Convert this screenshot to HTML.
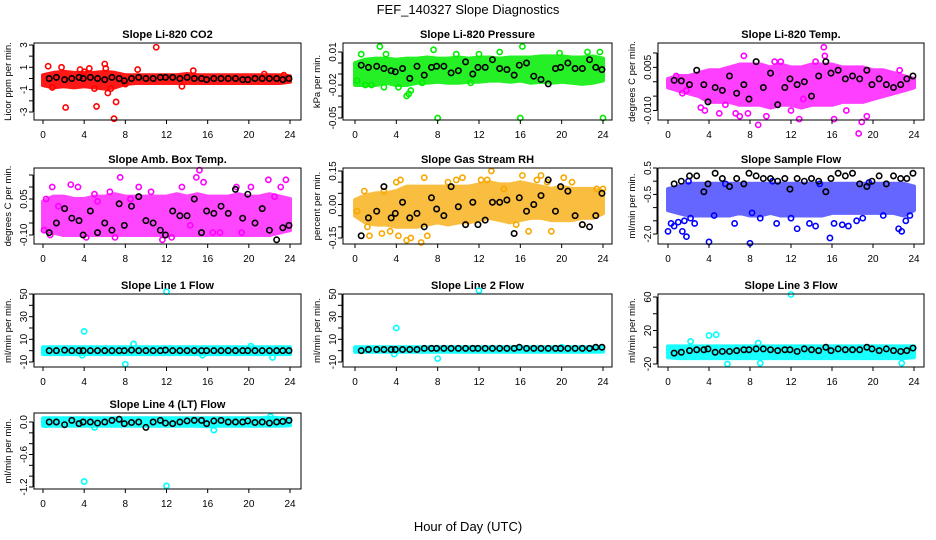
<!DOCTYPE html>
<html><head><meta charset="utf-8"><style>
html,body{margin:0;padding:0;background:#fff;}
svg{display:block;font-family:"Liberation Sans",Arial,sans-serif;}
</style></head><body>
<svg id="chart" width="936" height="540" viewBox="0 0 936 540">
<rect x="0" y="0" width="936" height="540" fill="#fff"/>
<text x="468" y="14" text-anchor="middle" font-size="13">FEF_140327  Slope Diagnostics</text>
<text x="468" y="531" text-anchor="middle" font-size="13">Hour of Day (UTC)</text>
</svg>
<script>
const NS="http://www.w3.org/2000/svg";
const svg=document.getElementById('chart');
const xTicks=[0,4,8,12,16,20,24];
const bandHours=[0,1,2,3,4,5,6,7,8,9,10,11,12,13,14,15,16,17,18,19,20,21,22,23,24];
const blackHours=[0.6,1.3,2.1,2.8,3.5,3.9,4.6,5.3,6.0,6.7,7.4,7.9,8.6,9.3,10.0,10.7,11.4,11.9,12.6,13.3,14.0,14.7,15.4,15.9,16.6,17.3,18.0,18.7,19.4,19.9,20.6,21.3,22.0,22.7,23.3,23.9];

const titles=["Slope Li-820 CO2","Slope Li-820 Pressure","Slope Li-820 Temp.","Slope Amb. Box Temp.","Slope Gas Stream RH","Slope Sample Flow","Slope Line 1 Flow","Slope Line 2 Flow","Slope Line 3 Flow","Slope Line 4 (LT) Flow"];
const yTitles=["Licor ppm per min.","kPa per min.","degrees C per min.","degrees C per min.","percent per min.","ml/min per min.","ml/min per min.","ml/min per min.","ml/min per min.","ml/min per min."];
const yTickVals=[[3,2,1,0,-1,-2,-3],[0.01,0,-0.01,-0.02,-0.03,-0.04,-0.05],[0.01,0.005,0,-0.005,-0.01],[0.15,0.1,0.05,0,-0.05,-0.1],[0.15,0.1,0.05,0,-0.05,-0.1,-0.15],[0.5,0,-0.5,-1,-1.5,-2],[50,40,30,20,10,0,-10],[50,40,30,20,10,0,-10],[60,40,20,0,-20],[0,-0.2,-0.4,-0.6,-0.8,-1,-1.2]];
const yTickLabels=[["3","1","-1","-3"],["0.01","-0.02","-0.05"],["0.005","-0.010"],["0.05","-0.10"],["0.15","0.00","-0.15"],["0.5","-0.5","-2.0"],["50","30","10","-10"],["50","30","10","-10"],["60","20","-20"],["0.0","-0.6","-1.2"]];
const yLabelVals=[[3,1,-1,-3],[0.01,-0.02,-0.05],[0.005,-0.01],[0.05,-0.1],[0.15,0,-0.15],[0.5,-0.5,-2],[50,30,10,-10],[50,30,10,-10],[60,20,-20],[0,-0.6,-1.2]];
const yDomTop=[3,0.01,0.01,0.15,0.15,0.5,50,50,60,0];
const yDomBot=[-3,-0.05,-0.01,-0.1,-0.15,-2,-10,-10,-20,-1.2];

const bandLo=[
[-0.6,-0.8,-0.7,-0.8,-0.7,-0.8,-0.9,-0.8,-0.5,-0.4,-0.4,-0.4,-0.4,-0.4,-0.4,-0.4,-0.4,-0.4,-0.4,-0.4,-0.4,-0.4,-0.4,-0.4,-0.3],
[-0.02,-0.02,-0.02,-0.018,-0.02,-0.02,-0.018,-0.018,-0.017,-0.018,-0.018,-0.017,-0.017,-0.016,-0.016,-0.017,-0.016,-0.018,-0.017,-0.018,-0.017,-0.018,-0.019,-0.018,-0.016],
[-0.002,-0.003,-0.004,-0.005,-0.007,-0.007,-0.007,-0.008,-0.008,-0.008,-0.009,-0.008,-0.008,-0.009,-0.008,-0.008,-0.008,-0.007,-0.007,-0.007,-0.006,-0.005,-0.004,-0.003,-0.002],
[-0.08,-0.09,-0.1,-0.1,-0.1,-0.1,-0.1,-0.1,-0.1,-0.1,-0.1,-0.1,-0.1,-0.1,-0.1,-0.1,-0.1,-0.1,-0.1,-0.1,-0.1,-0.1,-0.1,-0.09,-0.08],
[-0.05,-0.08,-0.09,-0.09,-0.1,-0.1,-0.1,-0.09,-0.08,-0.09,-0.08,-0.08,-0.07,-0.06,-0.07,-0.08,-0.07,-0.06,-0.06,-0.07,-0.07,-0.07,-0.06,-0.06,-0.04],
[-1.1,-1.2,-1.3,-1.3,-1.3,-1.3,-1.3,-1.2,-1.3,-1.3,-1.2,-1.3,-1.3,-1.3,-1.3,-1.3,-1.2,-1.2,-1.2,-1.2,-1.2,-1.2,-1.2,-1.3,-1.1],
[-3,-3,-3,-3,-3,-3,-3,-3,-3,-3,-3,-3,-3,-3,-3,-3,-3,-3,-3,-3,-3,-3,-3,-3,-3],
[-1,-1,-1,-1,-1,-1,-1,-1,-1,-1,-1,-1,-1,-1,-1,-1,-1,-1,-1,-1,-1,-1,-1,-1,-1],
[-12,-13,-13,-13,-13,-13,-13,-13,-13,-13,-13,-13,-13,-13,-13,-13,-13,-13,-13,-13,-13,-13,-13,-13,-12],
[-0.07,-0.07,-0.07,-0.07,-0.07,-0.07,-0.07,-0.07,-0.07,-0.07,-0.07,-0.07,-0.07,-0.07,-0.07,-0.07,-0.08,-0.07,-0.07,-0.07,-0.07,-0.07,-0.07,-0.07,-0.06]];
const bandHi=[
[0.3,0.5,0.6,0.5,0.5,0.5,0.6,0.5,0.3,0.3,0.3,0.3,0.3,0.3,0.4,0.3,0.3,0.3,0.3,0.3,0.3,0.3,0.3,0.3,0.2],
[0.0,0.003,0.004,0.004,0.003,0.004,0.004,0.005,0.004,0.004,0.005,0.004,0.005,0.005,0.004,0.005,0.005,0.005,0.006,0.006,0.006,0.005,0.005,0.006,0.004],
[0.001,0.002,0.002,0.003,0.004,0.004,0.005,0.006,0.006,0.006,0.005,0.006,0.005,0.005,0.006,0.006,0.006,0.005,0.005,0.005,0.004,0.004,0.003,0.002,0.001],
[0.04,0.06,0.06,0.05,0.05,0.06,0.06,0.07,0.06,0.06,0.06,0.06,0.06,0.07,0.06,0.07,0.06,0.06,0.06,0.07,0.06,0.06,0.07,0.06,0.05],
[0.02,0.04,0.05,0.05,0.06,0.08,0.08,0.08,0.08,0.08,0.08,0.08,0.09,0.1,0.09,0.09,0.1,0.09,0.08,0.07,0.08,0.07,0.07,0.07,0.06],
[-0.3,-0.2,-0.1,-0.1,-0.1,-0.1,-0.1,-0.1,-0.1,-0.1,-0.1,-0.1,-0.1,-0.1,-0.1,-0.1,-0.1,-0.1,-0.1,-0.1,-0.1,-0.1,-0.1,-0.1,-0.2],
[3,3,3,3,3,3,3,3,3,3,3,3,3,3,3,3,3,3,3,3,3,3,3,3,3],
[3,3,3,3,3,3,3,3,3,3,3,3,3,3,3,3,3,3,3,3,3,3,3,3,3],
[1,1,1,1,1,1,1,1,1,1,1,1,1,1,1,1,1,1,1,1,1,1,1,1,1],
[0.07,0.07,0.07,0.07,0.07,0.07,0.07,0.07,0.07,0.07,0.07,0.07,0.07,0.07,0.07,0.07,0.07,0.07,0.07,0.07,0.07,0.07,0.08,0.07,0.06]];

const scatX=[
[0.5,0.9,1.8,2.2,3.6,4.5,5.0,5.2,6.0,6.1,6.3,6.6,6.9,7.1,9.2,11.0,13.5,14.6,21.5,23.4,4.0,8.0],
[0.2,0.6,1.0,1.6,2.4,2.8,3.0,4.2,5.0,5.2,5.4,7.6,8.0,9.8,11.2,12.0,16.0,16.2,19.8,22.5,23.7,24.0,6.5,14.0],
[0.8,1.4,1.8,3.2,3.6,5.0,5.6,6.6,7.0,7.4,7.8,8.8,9.6,10.4,11.0,12.0,12.8,13.2,14.4,15.2,15.3,16.2,17.4,18.6,18.9,19.4,22.6],
[0.1,0.3,0.7,0.9,1.5,2.7,3.4,4.2,5.0,6.5,7.0,7.5,8.5,9.3,11.6,12.5,13.5,14.3,14.9,15.6,16.5,17.2,18.8,19.3,20.2,21.9,22.5,23.1,23.6,5.3,10.5,15.2],
[0.2,0.9,1.2,1.4,2.6,2.8,3.4,4.0,4.2,4.4,5.0,5.4,6.4,6.7,7.0,9.0,9.8,10.4,12.2,12.8,13.2,14.4,15.6,16.2,16.8,17.6,18.0,18.6,19.0,20.2,21.0,22.0,23.4,24.0],
[0.0,0.3,0.6,1.0,1.4,1.6,1.8,2.2,2.6,4.0,4.5,6.5,8.0,8.2,9.0,10.6,12.0,12.6,13.8,14.4,15.8,16.2,17.0,17.6,18.4,19.0,21.0,22.5,22.8,23.2,23.6,2.0,5.6,10.2,14.8,19.6],
[4.0,12.0,8.0,8.8,15.5,22.3,3.8,20.2],
[4.0,12.0,8.0,3.8,20.0],
[4.0,4.7,12.0,5.8,2.2,8.8,9.0,22.8,1.0],
[4.0,12.0,16.6,22.1,0.3,5.0]];
const scatY=[
[1.1,-0.8,1.0,-2.6,0.8,0.9,-0.9,-2.5,1.3,0.9,-1.3,-0.9,-3.6,-2.1,0.8,2.8,-0.7,0.7,0.4,0.3,0.6,-0.5],
[-0.016,0.008,-0.02,-0.02,0.015,-0.022,0.008,-0.022,-0.03,-0.028,-0.025,0.012,-0.05,0.008,-0.018,0.008,-0.05,0.015,0.009,0.01,0.01,-0.05,-0.018,0.01],
[0.002,-0.004,-0.003,-0.009,-0.01,-0.011,-0.008,-0.011,-0.012,0.009,-0.011,-0.015,-0.012,0.007,0.007,-0.01,-0.013,-0.006,0.007,0.012,0.009,-0.013,-0.01,-0.018,-0.014,-0.012,0.004],
[-0.08,0.05,-0.10,0.10,0.02,0.11,0.10,-0.11,0.07,0.08,-0.11,0.14,0.05,0.10,-0.12,-0.11,0.10,-0.06,0.14,0.12,-0.09,-0.09,0.10,-0.09,0.10,0.13,0.06,0.10,0.13,0.04,0.08,0.17],
[-0.03,0.06,-0.10,-0.14,-0.13,0.06,-0.12,0.10,-0.14,0.11,-0.16,-0.15,-0.17,0.12,-0.14,0.10,0.11,0.12,0.11,0.11,0.15,0.07,-0.09,0.13,-0.12,0.11,0.13,0.10,-0.12,0.12,0.10,-0.09,0.07,0.07],
[-1.9,-1.6,-1.7,-1.55,-1.9,-1.5,-2.1,-1.4,-1.6,-2.3,-1.3,-1.6,-2.35,-1.2,-1.4,-1.6,-1.4,-1.8,-1.6,-1.7,-2.15,-1.6,-1.65,-1.7,-1.5,-1.4,-1.3,-1.8,-1.9,-1.5,-1.3,0.0,-0.1,0.0,-0.1,-0.05],
[17,52,-12,6,-4,-6,-4,4],
[20,53,-7,-3,3],
[14,15,63,-20,7,5,-19,-19,-7],
[-1.1,-1.18,-0.15,0.1,-0.05,-0.1]];

const blackY=[
[0,0.1,-0.1,0,0.1,0,0.1,0,-0.1,0.1,0,-0.2,0,0.1,0,0,0.1,0.1,0.1,0,0.1,0,0,-0.1,0,0,0,0,-0.1,-0.1,0,0,0,0,-0.1,0],
[-0.002,-0.004,-0.003,-0.005,-0.007,-0.008,-0.005,-0.014,-0.003,-0.011,-0.004,-0.003,-0.003,-0.009,-0.007,0.001,-0.01,-0.004,-0.004,0.003,-0.005,-0.006,-0.011,-0.002,0.0,-0.012,-0.015,-0.019,-0.005,-0.004,0.0,-0.005,-0.005,0.003,-0.004,-0.006],
[0.0005,0.0003,-0.001,0.004,-0.001,-0.007,-0.002,-0.003,0.002,-0.004,-0.001,-0.006,0.007,-0.002,0.003,-0.008,-0.002,0.001,-0.001,0.0,-0.005,0.002,0.007,0.003,0.004,0.001,0.002,0.001,0.004,-0.001,0.001,-0.001,-0.002,-0.001,0.001,0.002],
[-0.09,-0.05,0.01,-0.03,-0.04,-0.10,0.00,-0.09,-0.05,-0.08,0.03,-0.06,0.02,0.06,-0.04,-0.05,-0.08,-0.10,0.00,-0.02,-0.02,0.05,-0.09,0.00,-0.01,0.02,-0.01,0.09,-0.03,0.07,-0.05,0.01,-0.08,-0.12,-0.07,-0.06],
[-0.14,-0.06,-0.03,0.08,-0.06,-0.04,0.01,-0.06,-0.04,-0.1,0.03,-0.02,-0.05,0.08,-0.01,-0.09,0.01,-0.09,-0.07,0.01,0.01,0.02,-0.13,0.03,-0.03,0.0,0.04,0.11,-0.03,0.08,0.06,-0.05,-0.09,-0.1,-0.05,0.05],
[-0.1,0,0.2,0.2,-0.4,-0.1,0.3,0.1,-0.2,0.1,-0.1,0.3,0.2,0.1,0.1,0,0.1,-0.3,0.1,0,0.1,0,-0.4,0.1,0.3,0.2,0.3,-0.1,-0.2,0,0.2,-0.1,0.2,0.1,0.1,0.3],
[0,0,0.5,0,0,0,0,0,0,0,0,0,0.5,0,0,0,0,0.5,0,0,0,0,0,0,0,0,0,0,0,0,0,0,0,0,0,0],
[0,1,1,1,1,1,1,1,1,2,2,2,2,2,2,2,2,2,2,2,2,2,2,3,2,2,2,2,2,2,2,2,2,2,3,3],
[-7,-6,-4,-3,-3,-2,-6,-5,-5,-4,-3,-3,-2,-2,-3,-4,-3,-3,-5,-2,-3,-4,0,-4,-2,-3,-3,-3,0,-2,-4,-2,-4,-5,-4,-1],
[0,0,-0.05,0.03,-0.03,0.0,0.0,-0.02,0.0,0.03,0.05,-0.03,-0.01,0.0,-0.1,0.0,0.03,-0.02,-0.03,0.0,0.02,0.03,0.03,-0.03,0.02,0.03,0.0,0.0,0.0,0.02,-0.01,0.0,-0.02,0.0,0.01,0.03]];

const colors=["#ff0000","#00ee00","#ff00ff","#ff00ff","#f7a800","#0000ff","#00ffff","#00ffff","#00ffff","#00ffff"];
const bandOpacity=[0.9,0.85,0.75,0.72,0.75,0.6,0.9,0.9,0.9,0.9];

const cols=[{bx:34,bw:267,x0:43,x24:290},{bx:343,bw:269,x0:355,x24:603},{bx:658,bw:266,x0:668,x24:914}];
const rows=[{by:43,bh:77},{by:168,bh:76},{by:294,bh:73},{by:413,bh:76}];
const yPix=[[45,112],[52,118],[53,110.5],[175,235],[171,238],[168,234],[294,362],[294,362],[297,364],[422,487]];

function mk(tag,attrs,parent){const e=document.createElementNS(NS,tag);for(const k in attrs)e.setAttribute(k,attrs[k]);(parent||svg).appendChild(e);return e;}

for(let p=0;p<10;p++){
  const c=cols[p%3], r=rows[Math.floor(p/3)];
  const g=mk('g',{});
  
  
  const xs=h=>c.x0+(h/24)*(c.x24-c.x0);
  const ys=v=>yPix[p][0]+(yDomTop[p]-v)/(yDomTop[p]-yDomBot[p])*(yPix[p][1]-yPix[p][0]);
  const t=mk('text',{x:c.bx+c.bw/2,y:r.by-5,'text-anchor':'middle','font-size':11,'font-weight':'bold'},g);
  t.textContent=titles[p];
  
  
  let d='';
  bandHours.forEach((h,i)=>{d+=(i?'L':'M')+xs(h).toFixed(1)+','+ys(bandHi[p][i]).toFixed(1);});
  for(let i=bandHours.length-1;i>=0;i--)d+='L'+xs(bandHours[i]).toFixed(1)+','+ys(bandLo[p][i]).toFixed(1);
  const band=mk('path',{d:d+'Z',fill:colors[p],stroke:colors[p],'stroke-width':4,'stroke-linejoin':'round',opacity:bandOpacity[p]},g);
  
  
  scatX[p].forEach((h,i)=>{
    const ci=mk('circle',{cx:xs(h),cy:ys(scatY[p][i]),r:2.6,fill:'none',stroke:colors[p],'stroke-width':1.6},g);
    
    
  });
  blackHours.forEach((h,i)=>{
    const ci=mk('circle',{cx:xs(h),cy:ys(blackY[p][i]),r:2.7,fill:'none',stroke:'#000','stroke-width':1.6},g);
    
    
  });
  const box=mk('rect',{x:c.bx,y:r.by,width:c.bw,height:r.bh,fill:'none',stroke:'#000','stroke-width':1},g);
  
  
  const yb=r.by+r.bh;
  xTicks.forEach(h=>{
    mk('line',{x1:xs(h),x2:xs(h),y1:yb,y2:yb+4,stroke:'#000'},g);
    const tl=mk('text',{x:xs(h),y:yb+18,'text-anchor':'middle','font-size':10},g);
    tl.textContent=h;
    
    
  });
  const tv=yTickVals[p];
  mk('line',{x1:c.bx-1,x2:c.bx-1,y1:ys(tv[0]),y2:ys(tv[tv.length-1]),stroke:'#000'},g);
  tv.forEach(v=>mk('line',{x1:c.bx-5,x2:c.bx-1,y1:ys(v),y2:ys(v),stroke:'#000'},g));
  yLabelVals[p].forEach((v,i)=>{
    const yy=ys(v);
    const tl=mk('text',{x:c.bx-7,y:yy,'text-anchor':'middle','font-size':10,transform:'rotate(-90 '+(c.bx-7)+' '+yy+')'},g);
    tl.textContent=yTickLabels[p][i];
    
    
  });
  const ym=r.by+r.bh/2, tx=c.bx-23;
  const yt=mk('text',{x:tx,y:ym,'text-anchor':'middle','font-size':9.5,transform:'rotate(-90 '+tx+' '+ym+')'},g);
  yt.textContent=yTitles[p];
  
  
}
</script>
</body></html>
